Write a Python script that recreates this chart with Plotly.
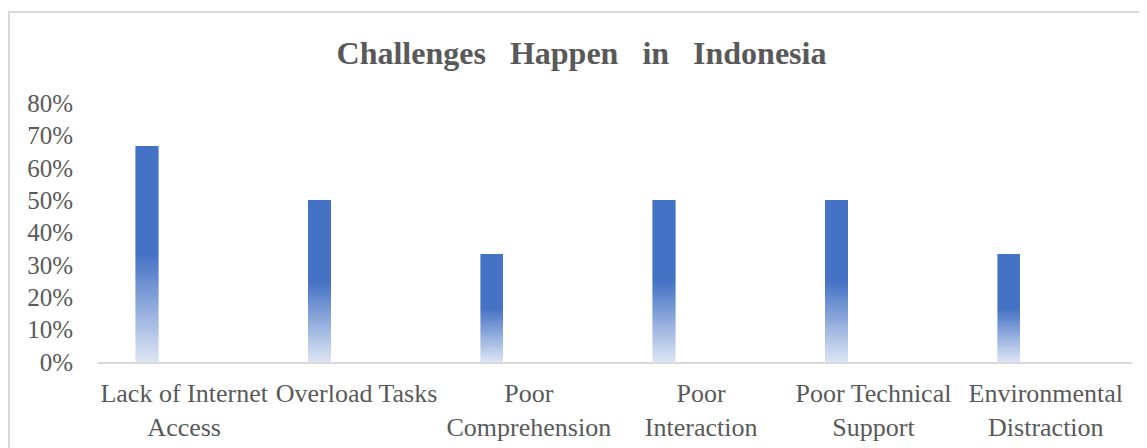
import plotly.graph_objects as go

categories = ["Lack of Internet<br>Access", "Overload Tasks", "Poor<br>Comprehension",
              "Poor<br>Interaction", "Poor Technical<br>Support", "Environmental<br>Distraction"]
values = [0.667, 0.50, 0.333, 0.50, 0.50, 0.333]
y_ticks = [0, 0.1, 0.2, 0.3, 0.4, 0.5, 0.6, 0.7, 0.8]
y_tick_labels = ["0%", "10%", "20%", "30%", "40%", "50%", "60%", "70%", "80%"]

TOP = (68, 114, 196)
BOTTOM = (222, 230, 245)
N_SEG = 30
FONT = "Liberation Serif, Times New Roman, serif"
TXT = "#595959"
PAGE_OFF = 8  # default body margin of the html page

fig = go.Figure()

def mix(t):
    return "rgb(%d,%d,%d)" % tuple(round(BOTTOM[i] + (TOP[i] - BOTTOM[i]) * t) for i in range(3))

# gradient lower half: stacked thin segments, each a fraction of the bar's own value
for k in range(N_SEG):
    t = (k + 0.5) / N_SEG
    c = mix(t)
    fig.add_trace(go.Bar(
        x=categories, y=[v * 0.5 / N_SEG for v in values],
        marker=dict(color=c, line=dict(color=c, width=0.6)),
        width=0.13, offset=-0.28, hoverinfo="skip", showlegend=False))
# solid upper half
fig.add_trace(go.Bar(
    x=categories, y=[v * 0.5 for v in values],
    marker=dict(color="rgb(68,114,196)", line=dict(color="rgb(68,114,196)", width=0.6)),
    width=0.13, offset=-0.28, showlegend=False))

W, H = 1147, 448
L, R_EDGE, T, B_EDGE = 98 - PAGE_OFF, 1132 - PAGE_OFF, 103 - PAGE_OFF, 362 - PAGE_OFF

fig.update_layout(
    width=W, height=H,
    barmode="stack",
    paper_bgcolor="white", plot_bgcolor="white",
    margin=dict(l=L, r=W - R_EDGE, t=T, b=H - B_EDGE, autoexpand=False),
    title=dict(text="<b>Challenges\u00a0\u00a0 Happen\u00a0\u00a0 in\u00a0\u00a0 Indonesia</b>",
               x=0.5, xanchor="center", yref="container",
               y=1 - (53 - PAGE_OFF) / H, yanchor="middle",
               automargin=False,
               font=dict(family=FONT, size=32, color=TXT)),
    font=dict(family=FONT, size=26, color=TXT),
    xaxis=dict(showgrid=False, showline=True, linecolor="#d9d9d9", linewidth=1.5,
               ticks="", automargin=False, ticklabelstandoff=7,
               tickfont=dict(family=FONT, size=26, color=TXT)),
    yaxis=dict(range=[0, 0.8], tickvals=y_ticks, ticktext=y_tick_labels,
               showgrid=False, showline=False, zeroline=False, ticks="",
               ticklabelstandoff=24, automargin=False,
               tickfont=dict(family=FONT, size=25, color=TXT)),
)

# outer chart border (partially cropped in reference)
pw, ph = R_EDGE - L, B_EDGE - T
fig.add_shape(type="rect", xref="paper", yref="paper",
              x0=(1 - L) / pw, x1=(W + 10 - L) / pw,
              y0=(B_EDGE - (H + 20)) / ph, y1=(B_EDGE - 4) / ph,
              line=dict(color="#d9d9d9", width=2), fillcolor="rgba(0,0,0,0)", layer="below")

fig.write_html("out.html")
